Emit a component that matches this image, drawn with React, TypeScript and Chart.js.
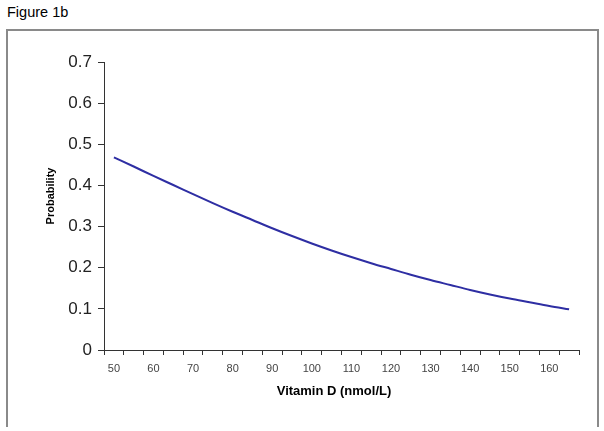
import React, { useEffect, useRef } from "react";
import { Chart, registerables } from "chart.js";

Chart.register(...registerables);

const vitaminD = [50, 55, 60, 65, 70, 75, 80, 85, 90, 95, 100, 105, 110, 115, 120, 125, 130, 135, 140, 145, 150, 155, 160, 165];
const probability = [0.468, 0.446, 0.423, 0.401, 0.379, 0.357, 0.336, 0.316, 0.296, 0.277, 0.259, 0.242, 0.226, 0.211, 0.197, 0.183, 0.17, 0.158, 0.146, 0.135, 0.125, 0.116, 0.107, 0.099];
const figureLabel = "Figure 1b";
const xTitle = "Vitamin D (nmol/L)";
const yTitle = "Probability";

const FONT = "Arial, 'Liberation Sans', Helvetica, sans-serif";

const axisTitlePlugin = {
  id: "axisTitlePlugin",
  afterDraw(chart: any) {
    const { ctx, chartArea } = chart;
    ctx.save();
    ctx.fillStyle = "#000000";
    ctx.textAlign = "center";
    ctx.textBaseline = "middle";
    ctx.font = `bold 13px ${FONT}`;
    ctx.fillText(xTitle, (chartArea.left + chartArea.right) / 2 - 7.5, chartArea.bottom + 41);
    ctx.translate(chartArea.left - 53, (chartArea.top + chartArea.bottom) / 2 - 10);
    ctx.rotate(-Math.PI / 2);
    ctx.font = `bold 11px ${FONT}`;
    ctx.fillText(yTitle, 0, 0);
    ctx.restore();
  },
};

export default function App() {
  const canvasRef = useRef<HTMLCanvasElement | null>(null);

  useEffect(() => {
    const canvas = canvasRef.current;
    if (!canvas) return;
    const chart = new Chart(canvas, {
      type: "line",
      data: {
        labels: vitaminD.map(String),
        datasets: [
          {
            data: probability,
            borderColor: "#2e2ea3",
            borderWidth: 2,
            pointRadius: 0,
            fill: false,
            cubicInterpolationMode: "monotone",
          },
        ],
      },
      options: {
        responsive: false,
        animation: false,
        events: [],
        layout: { padding: { left: 0, top: 62, right: 25, bottom: 0 } },
        plugins: {
          legend: { display: false },
          tooltip: { enabled: false },
          title: { display: false },
        },
        scales: {
          x: {
            type: "category",
            offset: true,
            grid: {
              offset: true,
              drawOnChartArea: false,
              drawTicks: true,
              tickLength: 5,
              color: "#333333",
            },
            border: { display: true, color: "#333333", width: 1 },
            ticks: {
              autoSkip: false,
              maxRotation: 0,
              minRotation: 0,
              padding: 7,
              color: "#444444",
              font: { family: FONT, size: 11 },
              callback: (_v: any, i: number) => (i % 2 === 0 ? vitaminD[i].toString() : ""),
            },
            title: { display: false, text: xTitle },
            afterFit: (scale: any) => {
              scale.height = 81;
            },
          },
          y: {
            min: 0,
            max: 0.7,
            grid: {
              drawOnChartArea: false,
              drawTicks: true,
              tickLength: 6,
              color: "#333333",
            },
            border: { display: true, color: "#333333", width: 1 },
            ticks: {
              stepSize: 0.1,
              padding: 6,
              color: "#222222",
              font: { family: FONT, size: 17 },
              callback: (v: any) => {
                const n = Math.round(Number(v) * 10) / 10;
                return n === 0 ? "0" : n.toFixed(1);
              },
            },
            title: { display: false, text: yTitle },
            afterFit: (scale: any) => {
              scale.width = 104;
            },
          },
        },
      },
      plugins: [axisTitlePlugin],
    });
    return () => chart.destroy();
  }, []);

  return (
    <div
      style={{
        position: "fixed",
        left: 0,
        top: 0,
        width: 604,
        height: 431,
        overflow: "hidden",
        background: "#ffffff",
      }}
    >
      <div
        style={{
          position: "absolute",
          left: 7,
          top: 4,
          fontFamily: FONT,
          fontSize: 14.5,
          color: "#000000",
          lineHeight: "normal",
          whiteSpace: "nowrap",
        }}
      >
        {figureLabel}
      </div>
      <div
        style={{
          position: "absolute",
          left: 6,
          top: 29,
          width: 589,
          height: 396,
          borderLeft: "2px solid #8a8a8a",
          borderTop: "2px solid #8a8a8a",
          borderRight: "2px solid #8a8a8a",
        }}
      />
      <canvas
        ref={canvasRef}
        width={604}
        height={431}
        style={{ position: "absolute", left: 0, top: 0, width: 604, height: 431 }}
      />
    </div>
  );
}
